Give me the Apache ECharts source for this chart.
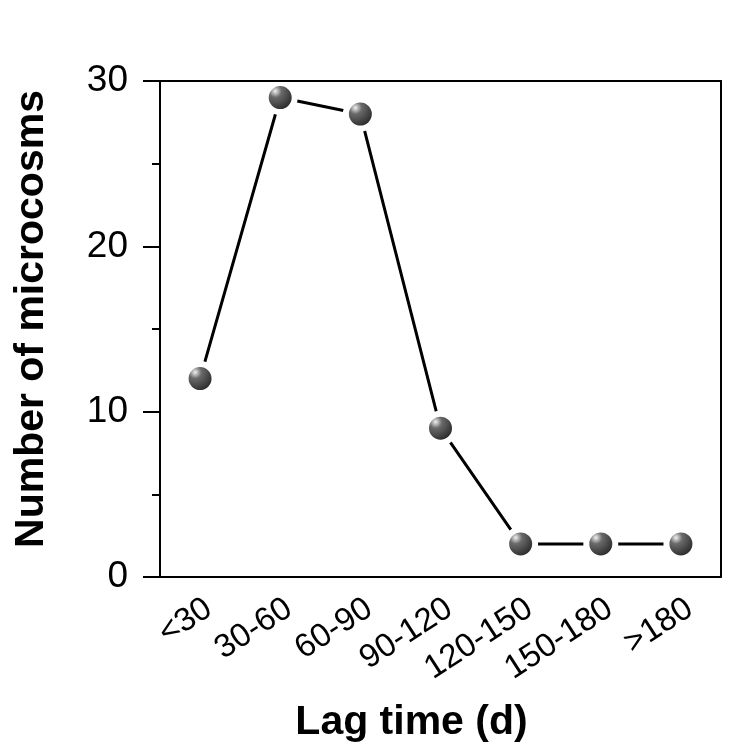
<!DOCTYPE html>
<html>
<head>
<meta charset="utf-8">
<script src="https://cdn.jsdelivr.net/npm/echarts@6/dist/echarts.min.js"></script>
<style>
  html, body { margin: 0; padding: 0; background: #fff; }
  #main { width: 748px; height: 746px; }
</style>
</head>
<body>
<div id="main"></div>
<script>
// lag time bins and microcosm counts
var categories = ['<30', '30-60', '60-90', '90-120', '120-150', '150-180', '>180']
var counts = [12, 29, 28, 9, 2, 2, 2]
var yTicks = [0, 10, 20, 30]

var chart = echarts.init(document.getElementById('main'), null, { renderer: 'canvas' })
var font = 'Liberation Sans, Arial, sans-serif'

var sphere = {
  type: 'radial', x: 0.36, y: 0.32, r: 0.6,
  colorStops: [
    { offset: 0, color: '#f0f0f0' },
    { offset: 0.3, color: '#6a6a6a' },
    { offset: 1, color: '#242424' }
  ]
}

// plain frame line for the top / right sides, drawn above the markers
var frame = {
  show: true,
  z: 10,
  axisLine: { show: true, onZero: false, lineStyle: { color: '#000', width: 2 } },
  axisTick: { show: false },
  axisLabel: { show: false },
  splitLine: { show: false }
}

var option = {
  backgroundColor: '#fff',
  animation: false,
  grid: {
    left: 160, right: 27, top: 81, bottom: 169,
    outerBoundsMode: 'none',
    containLabel: false,
    show: false
  },
  xAxis: [{
    type: 'category',
    data: categories,
    boundaryGap: true,
    z: 10,
    name: 'Lag time (d)',
    nameLocation: 'middle',
    nameGap: 125,
    nameTextStyle: { fontFamily: font, fontSize: 41, fontWeight: 'bold', color: '#000', padding: [0, 58, 0, 0] },
    axisLine: { lineStyle: { color: '#000', width: 2 } },
    axisTick: { alignWithLabel: true, length: 9, lineStyle: { color: '#000', width: 2 } },
    axisLabel: { fontFamily: font, fontSize: 33, color: '#000', rotate: 33, margin: 15, interval: 0, verticalAlign: 'top' },
    splitLine: { show: false }
  }, Object.assign({ type: 'category', data: categories, position: 'top' }, frame)],
  yAxis: [{
    type: 'value',
    min: yTicks[0],
    max: yTicks[yTicks.length - 1],
    interval: 10,
    z: 10,
    name: 'Number of microcosms',
    nameLocation: 'middle',
    nameGap: 108,
    nameRotate: 90,
    nameTextStyle: { fontFamily: font, fontSize: 41, fontWeight: 'bold', color: '#000', padding: [0, 0, 0, 20] },
    axisLine: { show: true, lineStyle: { color: '#000', width: 2 } },
    axisTick: { show: true, length: 17, lineStyle: { color: '#000', width: 2 } },
    minorTick: { show: true, splitNumber: 2, length: 8, lineStyle: { color: '#000', width: 2 } },
    axisLabel: { fontFamily: font, fontSize: 37, color: '#000', margin: 32 },
    splitLine: { show: false }
  }, Object.assign({ type: 'value', min: 0, max: 30, position: 'right' }, frame)],
  series: [{
    type: 'line',
    data: counts,
    xAxisIndex: 0,
    yAxisIndex: 0,
    symbol: 'circle',
    symbolSize: 29,
    lineStyle: { color: '#000', width: 3 },
    itemStyle: { color: sphere, borderColor: '#fff', borderWidth: 6 },
    z: 3
  }]
}

chart.setOption(option)
</script>
</body>
</html>
